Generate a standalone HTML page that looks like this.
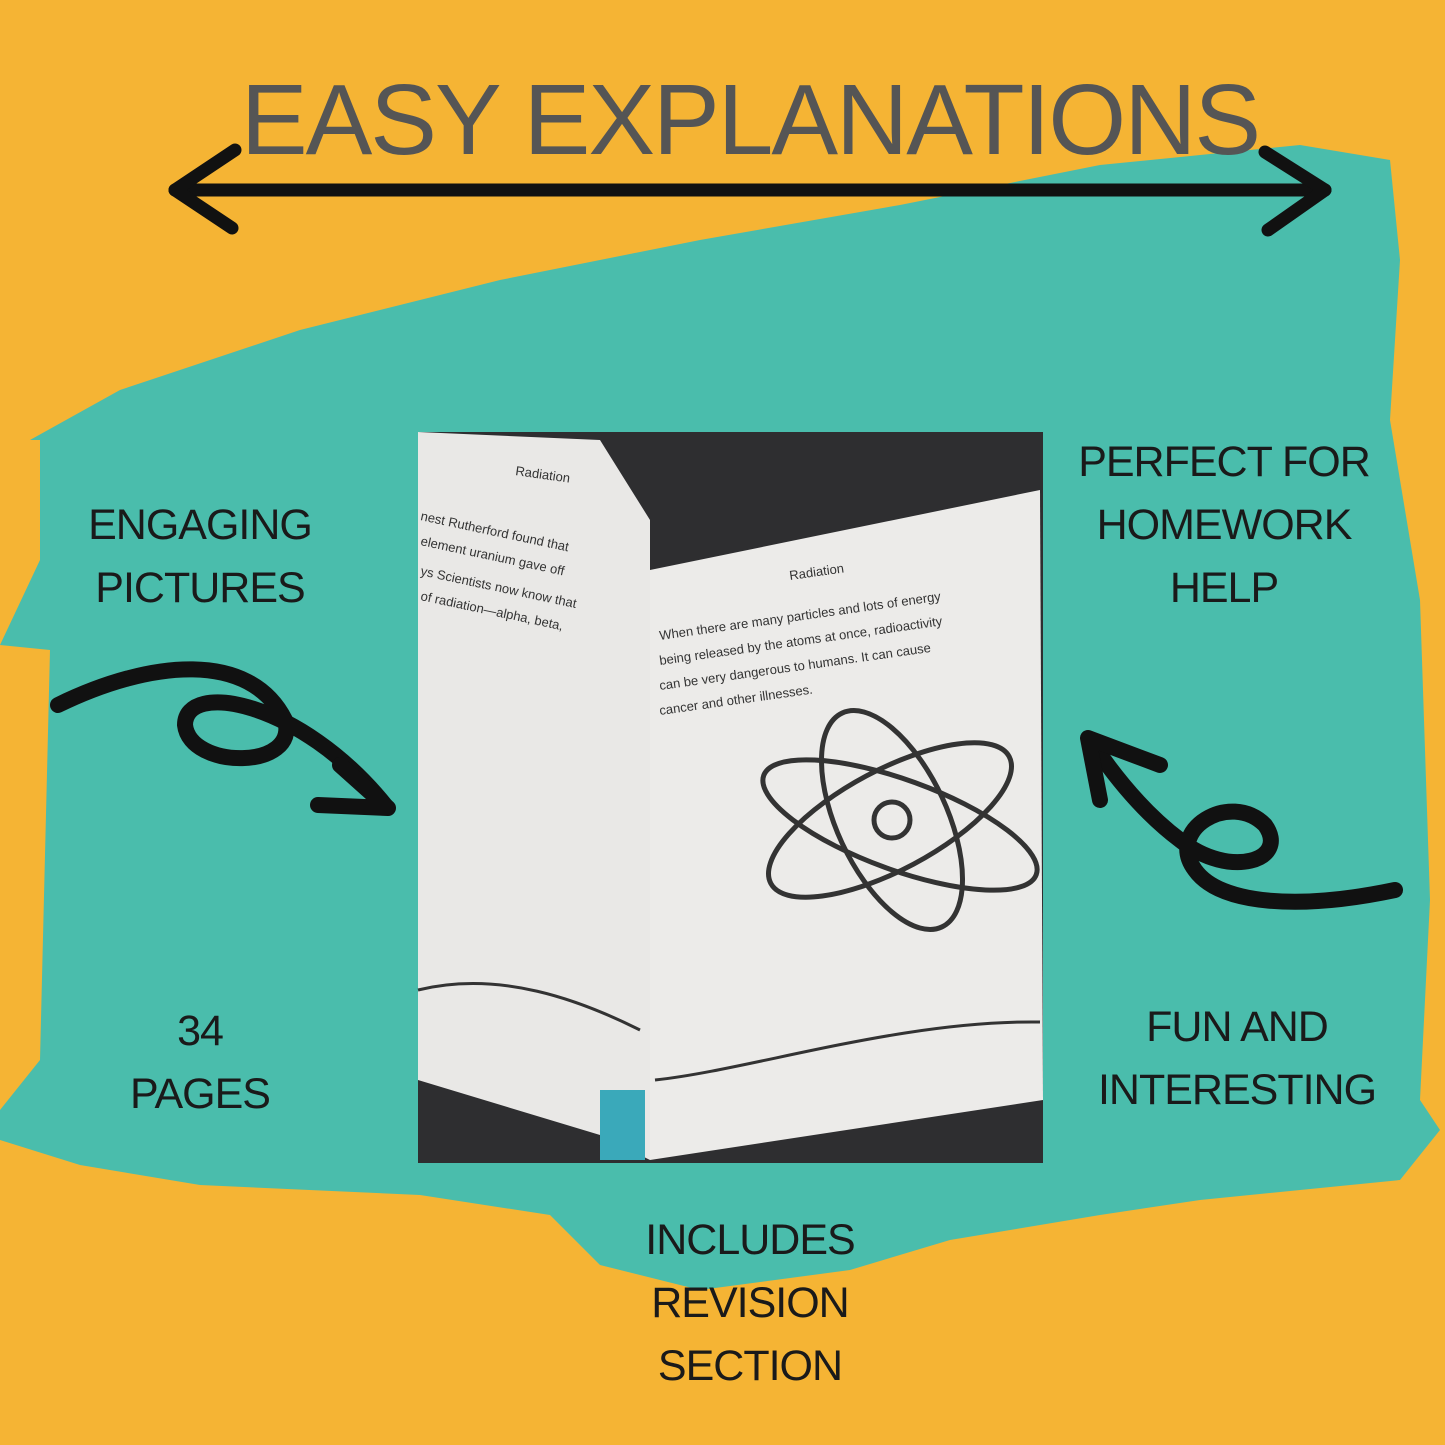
<!DOCTYPE html>
<html><head><meta charset="utf-8"><style>
html,body{margin:0;padding:0;}
body{width:1445px;height:1445px;background:#F5B434;position:relative;overflow:hidden;font-family:"Liberation Sans",sans-serif;}
.t{position:absolute;text-align:center;color:#1a1a1a;font-size:43px;line-height:63px;letter-spacing:-1px;font-weight:300;}
</style></head><body>
<svg width="1445" height="1445" style="position:absolute;left:0;top:0">
<polygon fill="#4ABDAC" points="30,440 120,390 300,330 500,280 700,240 900,205 1100,165 1300,145 1390,160 1400,260 1390,420 1420,600 1430,900 1420,1100 1440,1130 1400,1180 1200,1200 1100,1215 950,1240 850,1270 700,1290 600,1265 550,1215 420,1195 200,1185 80,1165 0,1140 0,1110 40,1060 50,650 0,645 40,560 40,440"/>
<g stroke="#111" stroke-width="13" stroke-linecap="round" stroke-linejoin="round" fill="none">
<line x1="175" y1="190" x2="1325" y2="190"/>
<polyline points="235,150 175,190 232,228"/>
<polyline points="1265,152 1325,190 1268,230"/>
<path d="M58,705 C150,660 250,650 285,720 C300,770 190,770 185,725 C185,680 300,700 385,805" stroke-width="16"/>
<polyline points="340,765 388,808 318,805" stroke-width="16"/>
<path d="M1395,890 C1300,910 1220,905 1195,870 C1165,830 1230,790 1265,825 C1290,860 1230,880 1180,840 C1140,810 1110,770 1090,740" stroke-width="16"/>
<polyline points="1100,800 1088,738 1160,765" stroke-width="16"/>
</g>
<rect x="418" y="432" width="625" height="731" fill="#2e2e30"/>
<polygon points="418,432 600,440 650,520 650,1160 600,1135 418,1080" fill="#e9e8e6"/>
<polygon points="650,570 1040,490 1043,1100 650,1160" fill="#ecebe9"/>
<rect x="600" y="1090" width="45" height="70" fill="#3aa9ba"/>
<g stroke="#333" stroke-width="5" fill="none">
<ellipse cx="892" cy="820" rx="55" ry="118" transform="rotate(-25 892 820)"/>
<ellipse cx="900" cy="825" rx="145" ry="45" transform="rotate(20 900 825)"/>
<ellipse cx="890" cy="820" rx="135" ry="50" transform="rotate(-28 890 820)"/>
<circle cx="892" cy="820" r="18"/>
</g>
<g fill="#333" font-family="Liberation Sans" font-size="13">
<text x="660" y="640" transform="rotate(-8 660 640)">When there are many particles and lots of energy</text>
<text x="660" y="665" transform="rotate(-8 660 665)">being released by the atoms at once, radioactivity</text>
<text x="660" y="690" transform="rotate(-8 660 690)">can be very dangerous to humans. It can cause</text>
<text x="660" y="715" transform="rotate(-8 660 715)">cancer and other illnesses.</text>
<text x="790" y="580" transform="rotate(-8 790 580)">Radiation</text>
<text x="515" y="475" transform="rotate(8 515 475)">Radiation</text>
<text x="420" y="520" transform="rotate(12 420 520)">nest Rutherford found that</text>
<text x="420" y="545" transform="rotate(12 420 545)">element uranium gave off</text>
<text x="420" y="575" transform="rotate(12 420 575)">ys Scientists now know that</text>
<text x="420" y="600" transform="rotate(12 420 600)">of radiation—alpha, beta,</text>
</g>
<path d="M418,990 C500,970 580,1000 640,1030 M655,1080 C750,1070 900,1020 1040,1022" stroke="#333" stroke-width="3" fill="none"/>
</svg>
<div class="t" style="left:100px;top:55px;width:1300px;font-size:100px;line-height:130px;color:#555;letter-spacing:-2px;">EASY EXPLANATIONS</div>
<div class="t" style="left:50px;top:494px;width:300px;">ENGAGING<br>PICTURES</div>
<div class="t" style="left:1074px;top:431px;width:300px;">PERFECT FOR<br>HOMEWORK<br>HELP</div>
<div class="t" style="left:50px;top:1000px;width:300px;">34<br>PAGES</div>
<div class="t" style="left:1087px;top:996px;width:300px;">FUN AND<br>INTERESTING</div>
<div class="t" style="left:600px;top:1209px;width:300px;">INCLUDES<br>REVISION<br>SECTION</div>
</body></html>
